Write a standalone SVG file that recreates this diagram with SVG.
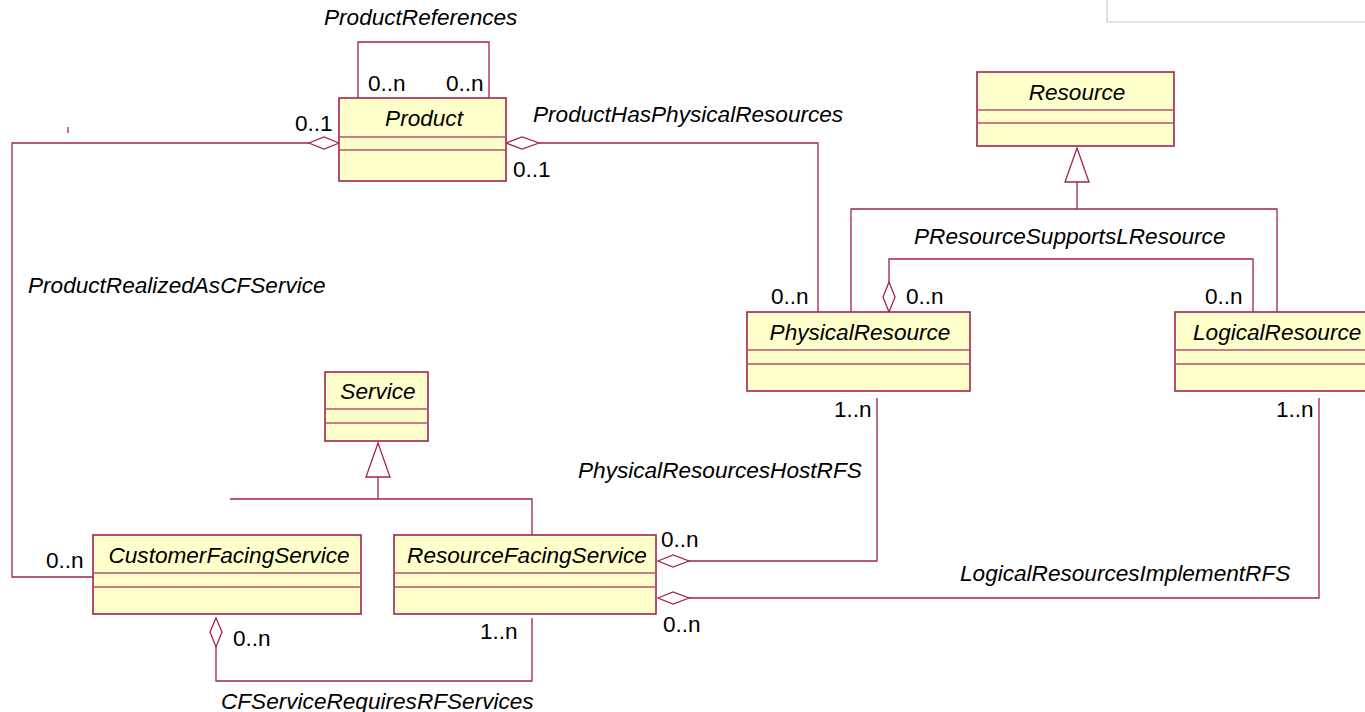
<svg xmlns="http://www.w3.org/2000/svg" width="1365" height="712" viewBox="0 0 1365 712">
  <style>
    .cls { fill: #FFFFCC; stroke: #A3234F; stroke-width: 1.6; }
    .sep { stroke: #B9506F; stroke-width: 1.4; }
    .ln { fill: none; stroke: #A3234F; stroke-width: 1.3; }
    .dia { fill: #FFFFFF; stroke: #A3234F; stroke-width: 1.3; }
    .name { font-family: "Liberation Sans", Arial, sans-serif; font-style: italic; font-size: 22.6px; fill: #000; }
    .assoc { font-family: "Liberation Sans", Arial, sans-serif; font-style: italic; font-size: 22.6px; fill: #000; }
    .mult { font-family: "Liberation Sans", Arial, sans-serif; font-size: 22.6px; fill: #000; }
  </style>

  <rect width="1365" height="712" fill="#FFFFFF"/>

  <!-- frame corner, upper right -->
  <polyline points="1107,0 1107,22 1365,22" fill="none" stroke="#CCCCCC" stroke-width="1.2"/>
  <line x1="68" y1="127" x2="68" y2="133" stroke="#A3234F" stroke-width="1.3"/>

  <g id="connectors">
    <!-- ProductReferences self association -->
    <polyline class="ln" points="358,98 358,42 489,42 489,98"/>
    <!-- ProductRealizedAsCFService -->
    <polyline class="ln" points="309,143 12,143 12,577 93,577"/>
    <polygon class="dia" points="339,143 324,137 309,143 324,149"/>
    <!-- ProductHasPhysicalResources -->
    <polyline class="ln" points="539,143 818,143 818,312"/>
    <polygon class="dia" points="506,143 522,137 539,143 522,149"/>
    <!-- Resource generalization -->
    <polyline class="ln" points="851,312 851,209 1277,209 1277,312"/>
    <line class="ln" x1="1077" y1="182" x2="1077" y2="209"/>
    <polygon class="dia" points="1077,148 1089,182 1065,182"/>
    <!-- PResourceSupportsLResource -->
    <polyline class="ln" points="889,282 889,259 1253,259 1253,312"/>
    <polygon class="dia" points="889,312 883,297 889,282 895,297"/>
    <!-- Service generalization -->
    <polyline class="ln" points="230,499 532,499 532,535"/>
    <line class="ln" x1="378" y1="477" x2="378" y2="499"/>
    <polygon class="dia" points="378,443 390,477 366,477"/>
    <!-- PhysicalResourcesHostRFS -->
    <polyline class="ln" points="877,398 877,561 689,561"/>
    <polygon class="dia" points="658,561 673,555 689,561 673,567"/>
    <!-- LogicalResourcesImplementRFS -->
    <polyline class="ln" points="1319,398 1319,598 689,598"/>
    <polygon class="dia" points="658,598 673,592 689,598 673,604"/>
    <!-- CFServiceRequiresRFServices -->
    <polyline class="ln" points="216,647 216,681 532,681 532,618"/>
    <polygon class="dia" points="216,618 222,632 216,647 210,632"/>
  </g>

  <g id="Product">
    <rect class="cls" x="339" y="98" width="167" height="83"/>
    <line class="sep" x1="339" y1="137" x2="506" y2="137"/>
    <line class="sep" x1="339" y1="150" x2="506" y2="150"/>
    <text class="name" x="424" y="126" text-anchor="middle">Product</text>
  </g>

  <g id="Resource">
    <rect class="cls" x="977" y="72" width="197" height="74"/>
    <line class="sep" x1="977" y1="110" x2="1174" y2="110"/>
    <line class="sep" x1="977" y1="123" x2="1174" y2="123"/>
    <text class="name" x="1077" y="100" text-anchor="middle">Resource</text>
  </g>

  <g id="PhysicalResource">
    <rect class="cls" x="747" y="312" width="223" height="79"/>
    <line class="sep" x1="747" y1="350" x2="970" y2="350"/>
    <line class="sep" x1="747" y1="364" x2="970" y2="364"/>
    <text class="name" x="860" y="340" text-anchor="middle">PhysicalResource</text>
  </g>

  <g id="LogicalResource">
    <rect class="cls" x="1175" y="312" width="195" height="79"/>
    <line class="sep" x1="1175" y1="350" x2="1365" y2="350"/>
    <line class="sep" x1="1175" y1="364" x2="1365" y2="364"/>
    <text class="name" x="1193" y="340">LogicalResource</text>
  </g>

  <g id="Service">
    <rect class="cls" x="325" y="372" width="103" height="69"/>
    <line class="sep" x1="325" y1="409" x2="428" y2="409"/>
    <line class="sep" x1="325" y1="423" x2="428" y2="423"/>
    <text class="name" x="378" y="399" text-anchor="middle">Service</text>
  </g>

  <g id="CustomerFacingService">
    <rect class="cls" x="93" y="535" width="268" height="79"/>
    <line class="sep" x1="93" y1="573" x2="361" y2="573"/>
    <line class="sep" x1="93" y1="587" x2="361" y2="587"/>
    <text class="name" x="229" y="563" text-anchor="middle">CustomerFacingService</text>
  </g>

  <g id="ResourceFacingService">
    <rect class="cls" x="394" y="535" width="262" height="79"/>
    <line class="sep" x1="394" y1="573" x2="656" y2="573"/>
    <line class="sep" x1="394" y1="587" x2="656" y2="587"/>
    <text class="name" x="527" y="563" text-anchor="middle">ResourceFacingService</text>
  </g>

  <g id="labels">
    <text class="assoc" x="324" y="25">ProductReferences</text>
    <text class="assoc" x="533" y="122">ProductHasPhysicalResources</text>
    <text class="assoc" x="28" y="293">ProductRealizedAsCFService</text>
    <text class="assoc" x="914" y="244">PResourceSupportsLResource</text>
    <text class="assoc" x="578" y="478">PhysicalResourcesHostRFS</text>
    <text class="assoc" x="960" y="581">LogicalResourcesImplementRFS</text>
    <text class="assoc" x="221" y="709">CFServiceRequiresRFServices</text>

    <text class="mult" x="368" y="91">0..n</text>
    <text class="mult" x="446" y="91">0..n</text>
    <text class="mult" x="295" y="131">0..1</text>
    <text class="mult" x="513" y="177">0..1</text>
    <text class="mult" x="771" y="304">0..n</text>
    <text class="mult" x="906" y="304">0..n</text>
    <text class="mult" x="1205" y="304">0..n</text>
    <text class="mult" x="834" y="417">1..n</text>
    <text class="mult" x="1276" y="417">1..n</text>
    <text class="mult" x="661" y="547">0..n</text>
    <text class="mult" x="663" y="632">0..n</text>
    <text class="mult" x="46" y="568">0..n</text>
    <text class="mult" x="233" y="646">0..n</text>
    <text class="mult" x="480" y="639">1..n</text>
  </g>
</svg>
